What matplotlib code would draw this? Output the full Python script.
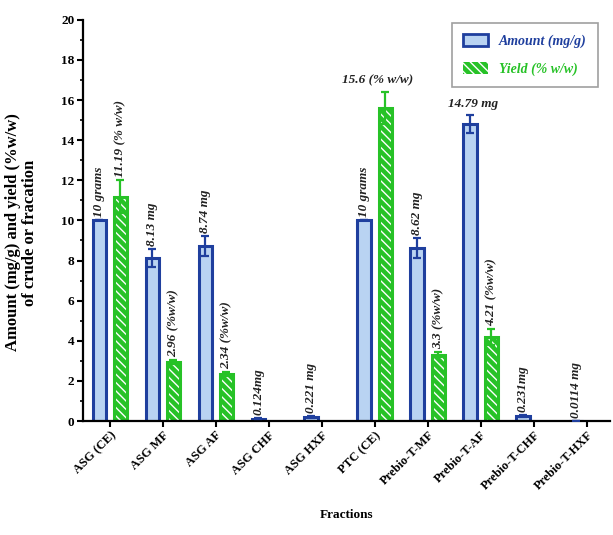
import matplotlib
matplotlib.use("Agg")
import matplotlib.pyplot as plt
import numpy as np
from matplotlib.patches import Patch
from matplotlib.ticker import MultipleLocator

categories = ["ASG (CE)", "ASG MF", "ASG AF", "ASG CHF", "ASG HXF",
              "PTC (CE)", "Prebio-T-MF", "Prebio-T-AF", "Prebio-T-CHF", "Prebio-T-HXF"]
amount = [10, 8.13, 8.74, 0.124, 0.221, 10, 8.62, 14.79, 0.231, 0.0114]
amount_err = [0, 0.45, 0.5, 0.03, 0.05, 0, 0.5, 0.45, 0.05, 0.0]
yield_pct = [11.19, 2.96, 2.34, 0, 0, 15.6, 3.3, 4.21, 0, 0]
yield_err = [0.8, 0.1, 0.1, 0, 0, 0.8, 0.12, 0.4, 0, 0]
amount_labels = ["10 grams", "8.13 mg", "8.74 mg", "0.124mg", "0.221 mg",
                 "10 grams", "8.62 mg", "14.79 mg", "0.231mg", "0.0114 mg"]
yield_labels = ["11.19 (% w/w)", "2.96 (%w/w)", "2.34 (%w/w)", "", "",
                "15.6 (% w/w)", "3.3 (%w/w)", "4.21 (%w/w)", "", ""]
horizontal_amount = {7}
horizontal_yield = {5}

plt.rcParams['font.family'] = ['Liberation Serif', 'DejaVu Serif']

blue_edge = "#1f3f9e"
blue_fill = "#b9d3f2"
green = "#27c227"

fig = plt.figure(figsize=(6.13, 5.35), dpi=100)
ax = fig.add_axes([0.135, 0.213, 0.86, 0.75])

x = np.arange(len(categories))
off = 0.2
w = 0.25

ax.bar(x - off, amount, w, color=blue_fill, edgecolor=blue_edge, linewidth=2.2, zorder=2)
ax.errorbar(x - off, amount, yerr=amount_err, fmt='none', ecolor=blue_edge,
            elinewidth=1.6, capsize=3, capthick=1.6, zorder=3)

yv = np.array(yield_pct, dtype=float)
ye = np.array(yield_err, dtype=float)
m = yv > 0
ax.bar(x[m] + off, yv[m], w, color=green, edgecolor="white", hatch="\\\\\\\\", linewidth=0, zorder=2)
ax.bar(x[m] + off, yv[m], w, color="none", edgecolor=green, linewidth=2.2, zorder=2.5)
ax.errorbar(x[m] + off, yv[m], yerr=ye[m], fmt='none', ecolor=green,
            elinewidth=1.6, capsize=3, capthick=1.6, zorder=3)

lab_kw = dict(fontsize=9.5, fontweight='bold', fontstyle='italic', color='#222222')
for i in range(len(categories)):
    top = amount[i] + amount_err[i]
    if i in horizontal_amount:
        ax.text(x[i] - off + 0.05, top + 0.25, amount_labels[i], ha='center', va='bottom', **lab_kw)
    else:
        ax.text(x[i] - off, top + 0.15, amount_labels[i], rotation=90, rotation_mode='anchor',
                ha='left', va='center', **lab_kw)
    if yield_labels[i]:
        topy = yield_pct[i] + yield_err[i]
        if i in horizontal_yield:
            ax.text(x[i] + off - 0.15, topy + 0.3, yield_labels[i], ha='center', va='bottom', **lab_kw)
        else:
            ax.text(x[i] + off, topy + 0.15, yield_labels[i], rotation=90, rotation_mode='anchor',
                    ha='left', va='center', **lab_kw)

ax.set_xlim(-0.51, 9.44)
ax.set_ylim(0, 20)
ax.yaxis.set_major_locator(MultipleLocator(2))
ax.yaxis.set_minor_locator(MultipleLocator(1))
ax.set_xticks(x)
ax.set_xticklabels(categories, rotation=45, ha='right', rotation_mode='anchor',
                   fontsize=9, fontweight='bold')
for lbl in ax.get_yticklabels():
    lbl.set_fontweight('bold')
    lbl.set_fontsize(9.5)
ax.tick_params(axis='both', which='major', width=1.5, length=4, pad=2)
ax.tick_params(axis='y', which='minor', width=1.2, length=2.5)
for s in ['top', 'right']:
    ax.spines[s].set_visible(False)
for s in ['left', 'bottom']:
    ax.spines[s].set_linewidth(1.6)

ax.set_xlabel("Fractions", fontsize=9.5, fontweight='bold', labelpad=12)
ax.set_ylabel("Amount (mg/g) and yield (%w/w)\nof crude or fracation", fontsize=12,
              fontweight='bold', linespacing=1.05)
ax.yaxis.set_label_coords(-0.085, 0.47)

handles = [Patch(facecolor=blue_fill, edgecolor=blue_edge, linewidth=2),
           Patch(facecolor=green, edgecolor="white", hatch="\\\\\\\\", linewidth=0)]
leg = ax.legend(handles, ["Amount (mg/g)", "Yield (% w/w)"], loc='upper right',
                bbox_to_anchor=(0.99, 1.01), frameon=True, fancybox=False,
                edgecolor='#888888', prop=dict(size=10, weight='bold', style='italic'),
                handlelength=1.8, handleheight=1.0, borderpad=0.8, labelspacing=1.0)
leg.get_frame().set_linewidth(1.2)
leg.get_texts()[0].set_color(blue_edge)
leg.get_texts()[1].set_color(green)

fig.savefig("out.png", dpi=100)
